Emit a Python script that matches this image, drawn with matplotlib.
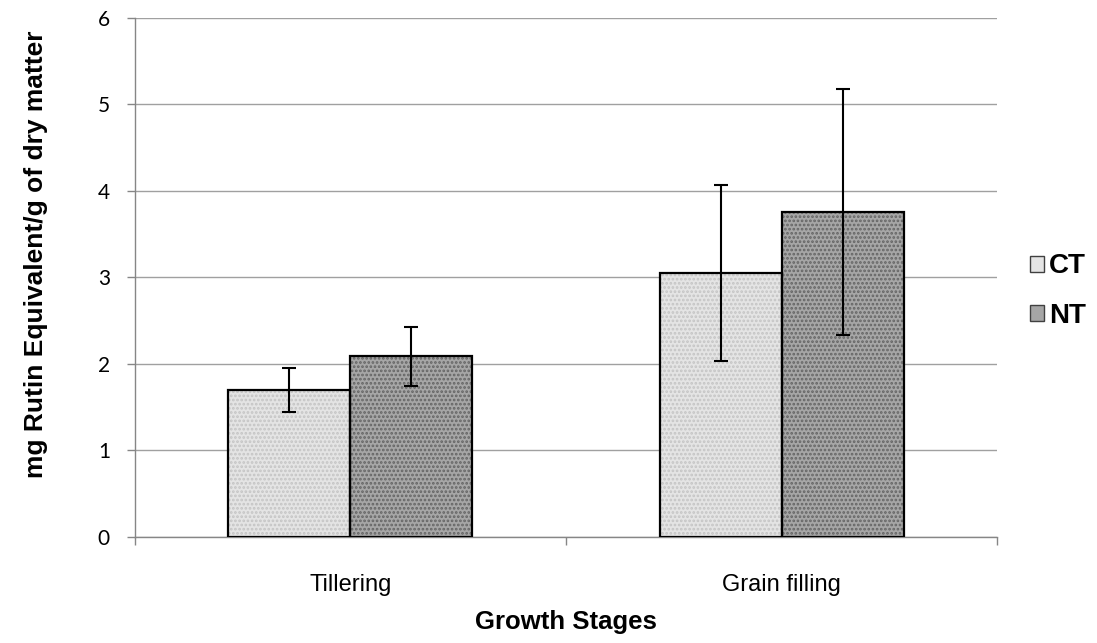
import numpy as np
import matplotlib.pyplot as plt
from matplotlib.patches import Patch

# data
stages = ["Tillering", "Grain filling"]
ct_mean = [1.70, 3.05]
ct_err = [0.25, 1.02]
nt_mean = [2.09, 3.76]
nt_err = [0.34, 1.42]

plt.rcParams["hatch.linewidth"] = 1.3

fig = plt.figure(figsize=(10.97, 6.43), dpi=100)
ax = fig.add_axes([0.123, 0.165, 0.786, 0.807])

x = np.arange(len(stages))
w = 0.283

# speckled fills (hatch drawn in its own colour, outline drawn on top)
ax.bar(x - w / 2, ct_mean, w, color="#e4e4e4", hatch="....", edgecolor="#c4c4c4", linewidth=0, zorder=2)
ax.bar(x + w / 2, nt_mean, w, color="#a6a6a6", hatch="....", edgecolor="#646464", linewidth=0, zorder=2)
ax.bar(x - w / 2, ct_mean, w, fill=False, edgecolor="black", linewidth=1.6, zorder=3)
ax.bar(x + w / 2, nt_mean, w, fill=False, edgecolor="black", linewidth=1.6, zorder=3)

ax.errorbar(x - w / 2, ct_mean, yerr=ct_err, fmt="none", ecolor="black", elinewidth=1.5, capsize=5, capthick=1.5, zorder=4)
ax.errorbar(x + w / 2, nt_mean, yerr=nt_err, fmt="none", ecolor="black", elinewidth=1.5, capsize=5, capthick=1.5, zorder=4)

ax.set_xlim(-0.5, 1.5)
ax.set_ylim(0, 6)
ax.set_yticks(range(0, 7))
ax.yaxis.grid(True, color="#a0a0a0", linewidth=1)
ax.set_axisbelow(True)

ax.set_xticks(x)
ax.set_xticklabels(stages, fontsize=17, family="Liberation Sans")
ax.set_xticks([-0.5, 0.5, 1.5], minor=True)
ax.tick_params(axis="x", which="major", length=0, pad=27)
ax.tick_params(axis="x", which="minor", length=6, color="#868686", width=1)
ax.tick_params(axis="y", length=6, color="#868686", width=1, labelsize=15, pad=12)
for lab in ax.get_yticklabels():
    lab.set_family("Lato")

for s in ["top", "right"]:
    ax.spines[s].set_visible(False)
for s in ["left", "bottom"]:
    ax.spines[s].set_color("#868686")
    ax.spines[s].set_linewidth(1)

ax.set_xlabel("Growth Stages", fontsize=18.5, fontweight="bold", family="Liberation Sans", labelpad=10)
ax.set_ylabel("mg Rutin Equivalent/g of dry matter", fontsize=19, fontweight="bold", family="Liberation Sans",
              labelpad=36, y=0.545)

handles = [Patch(facecolor="#e4e4e4", edgecolor="#404040", label="CT"),
           Patch(facecolor="#a6a6a6", edgecolor="#404040", label="NT")]
fig.legend(handles=handles, loc="center left", bbox_to_anchor=(0.916, 0.547), frameon=False,
           prop={"family": "Liberation Sans", "weight": "bold", "size": 20},
           handlelength=0.5, handleheight=0.5, handletextpad=0.2, labelspacing=0.85)

fig.savefig("out.png", dpi=100)
